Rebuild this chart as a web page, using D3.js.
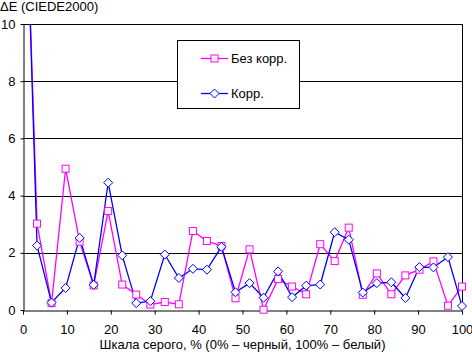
<!DOCTYPE html>
<html>
<head>
<meta charset="utf-8">
<script src="https://cdn.jsdelivr.net/npm/d3@7"></script>
<style>
body { margin: 0; background: #fff; }
text { font-family: "Liberation Sans", Arial, sans-serif; }
</style>
</head>
<body>
<svg width="472" height="353"></svg>
<script>
// gray level, %
var grey = [0, 3.2, 6.5, 9.7, 12.9, 16.1, 19.4, 22.6, 25.8, 29.0, 32.3, 35.5, 38.7, 41.9, 45.2, 48.4,
            51.6, 54.8, 58.1, 61.3, 64.5, 67.7, 71.0, 74.2, 77.4, 80.6, 83.9, 87.1, 90.3, 93.5, 96.8, 100];

var noCorr = [18.0, 3.02, 0.24, 4.94, 2.39, 0.86, 3.46, 0.89, 0.54, 0.19, 0.28, 0.2, 2.76, 2.41, 2.24, 0.41,
              2.12, 0.01, 1.08, 0.82, 0.55, 2.3, 1.71, 2.88, 0.53, 1.28, 0.55, 1.21, 1.41, 1.70, 0.15, 0.82];

var corr = [18.4, 2.25, 0.26, 0.77, 2.52, 0.88, 4.45, 1.91, 0.24, 0.31, 1.94, 1.12, 1.44, 1.41, 2.21, 0.62,
            0.94, 0.43, 1.35, 0.45, 0.85, 0.89, 2.72, 2.46, 0.61, 0.94, 0.97, 0.42, 1.50, 1.49, 1.85, 0.14];

var xTicks = [0, 10, 20, 30, 40, 50, 60, 70, 80, 90, 100];
var yTicks = [0, 2, 4, 6, 8, 10];

var svg = d3.select("svg"),
    pLeft = 23, pRight = 462, pTop = 24, pBottom = 310;

var x = d3.scaleLinear().domain([0, 100]).range([pLeft, pRight]);
var y = d3.scaleLinear().domain([0, 10]).range([pBottom, pTop]);

svg.append("defs").append("clipPath").attr("id", "plot")
    .append("rect").attr("x", pLeft).attr("y", pTop)
    .attr("width", pRight - pLeft).attr("height", pBottom - pTop);

// grid
svg.append("g").selectAll("line")
    .data(yTicks.filter(function(d) { return d > 0; }))
    .enter().append("line")
    .attr("x1", pLeft).attr("x2", pRight)
    .attr("y1", function(d) { return Math.round(y(d)) + 0.5; })
    .attr("y2", function(d) { return Math.round(y(d)) + 0.5; })
    .attr("stroke", "#000");

// right border
svg.append("line")
    .attr("x1", pRight + 0.5).attr("x2", pRight + 0.5)
    .attr("y1", pTop).attr("y2", pBottom)
    .attr("stroke", "#000");

var xAxis = svg.append("g")
    .attr("transform", "translate(0," + (pBottom + 0.5) + ")")
    .call(d3.axisBottom(x).tickValues(xTicks).tickSize(4).tickPadding(10).tickSizeOuter(0));
var yAxis = svg.append("g")
    .attr("transform", "translate(" + (pLeft + 0.5) + ",0)")
    .call(d3.axisLeft(y).tickValues(yTicks).tickSize(3).tickPadding(5).tickSizeOuter(0));

[xAxis, yAxis].forEach(function(a) {
    a.select(".domain").attr("stroke", "#000");
    a.selectAll(".tick line").attr("stroke", "#000");
    a.selectAll("text")
        .style("font-family", '"Liberation Sans", Arial, sans-serif')
        .style("font-size", "13px")
        .attr("fill", "#000");
});

var series = [
    {name: "Без корр.", values: noCorr, color: "#ff00ff", marker: "square"},
    {name: "Корр.", values: corr, color: "#0000ff", marker: "diamond"}
];

function drawMarker(sel, kind, color) {
    if (kind === "square") {
        sel.append("rect")
            .attr("x", -3.5).attr("y", -3.5).attr("width", 7).attr("height", 7)
            .attr("fill", "#fff").attr("stroke", color).attr("stroke-width", 1);
    } else {
        sel.append("path")
            .attr("d", "M0,-4.5L4.5,0L0,4.5L-4.5,0Z")
            .attr("fill", "#fff").attr("stroke", color).attr("stroke-width", 1);
    }
}

var line = d3.line()
    .x(function(d) { return x(d[0]); })
    .y(function(d) { return y(d[1]); });

var plot = svg.append("g").attr("clip-path", "url(#plot)");

series.forEach(function(s) {
    var pts = grey.map(function(g, i) { return [g, s.values[i]]; });
    plot.append("path")
        .attr("d", line(pts))
        .attr("fill", "none")
        .attr("stroke", s.color)
        .attr("stroke-width", 1.3);
    var m = svg.append("g").selectAll("g")
        .data(pts.filter(function(d) { return d[1] <= 10; }))
        .enter().append("g")
        .attr("transform", function(d) { return "translate(" + x(d[0]) + "," + y(d[1]) + ")"; });
    drawMarker(m, s.marker, s.color);
});

// legend
var lg = svg.append("g");
lg.append("rect")
    .attr("x", 177.5).attr("y", 40.5).attr("width", 122).attr("height", 68)
    .attr("fill", "#fff").attr("stroke", "#000");
series.forEach(function(s, i) {
    var ly = [58.5, 93.5][i];
    lg.append("line")
        .attr("x1", 201).attr("x2", 228).attr("y1", ly).attr("y2", ly)
        .attr("stroke", s.color).attr("stroke-width", 1.3);
    var mk = lg.append("g").attr("transform", "translate(214.5," + ly + ")");
    drawMarker(mk, s.marker, s.color);
    lg.append("text")
        .attr("x", 231).attr("y", ly + 4.5)
        .style("font-size", "13px")
        .text(s.name);
});

svg.append("text")
    .attr("x", 0).attr("y", 11)
    .style("font-size", "13px")
    .text("ΔE (CIEDE2000)");

svg.append("text")
    .attr("x", (pLeft + pRight) / 2).attr("y", 349)
    .attr("text-anchor", "middle")
    .style("font-size", "13px")
    .text("Шкала серого, % (0% – черный, 100% – белый)");
</script>
</body>
</html>
